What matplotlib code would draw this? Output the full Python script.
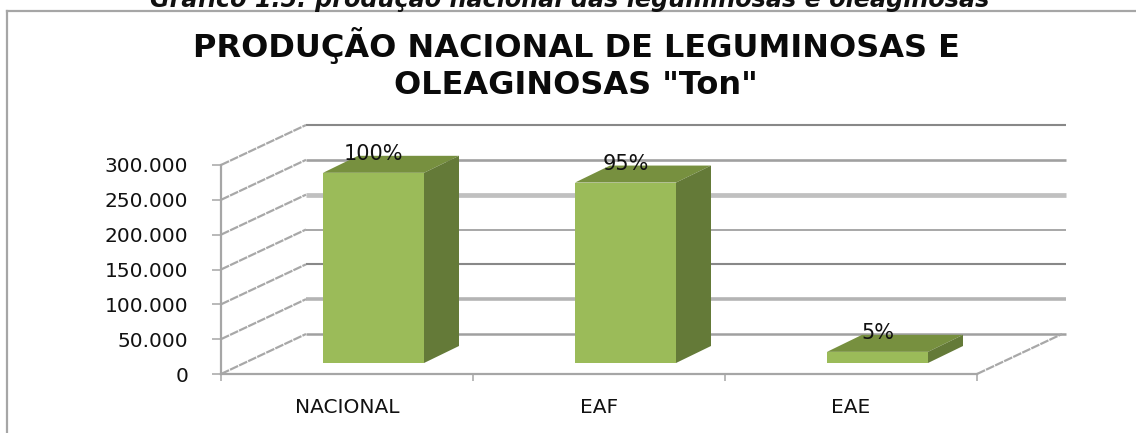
import matplotlib
matplotlib.use('Agg')
import matplotlib.pyplot as plt

categories = ['NACIONAL', 'EAF', 'EAE']
values = [273000, 259000, 16000]
labels = ['100%', '95%', '5%']
y_ticks = [0, 50000, 100000, 150000, 200000, 250000, 300000]
# back wall line looks, bottom to top
grid_colors = ['#a0a0a0', '#b4b4b4', '#888888', '#a0a0a0', '#c0c0c0', '#a0a0a0', '#888888']
grid_widths = [1.8, 2.6, 1.5, 1.3, 3.4, 1.9, 1.5]

W, H = 1136, 433
fig = plt.figure(figsize=(W / 100, H / 100), dpi=100)
fig.patch.set_facecolor('white')

ax = fig.add_axes([221 / W, (H - 374) / H, 756 / W, 209 / H])
ax.set_xlim(0, 3)
ax.set_ylim(0, 300000)
ax.patch.set_alpha(0)

px = 3 / 756
py = 300000 / 209
wall_dx = 85 * px
wall_dy = 40 * py
wall_end = 3 + 89 * px
bar_dx = 35 * px
bar_dy = 17 * py
bar_lift = 11 * py
bar_left = 102 * px
bar_w = 101 * px

# walls
for v, c, lw in zip(y_ticks, grid_colors, grid_widths):
    ax.plot([wall_dx, wall_end], [v + wall_dy, v + wall_dy], color=c, lw=lw,
            clip_on=False, zorder=1, solid_capstyle='butt')
    ax.plot([0, wall_dx], [v, v + wall_dy], color='#a8a8a8', lw=1.6, ls=(0, (4, 0.5)),
            clip_on=False, zorder=1)
ax.plot([3, 3 + wall_dx], [0, wall_dy], color='#a8a8a8', lw=1.6, ls=(0, (4, 0.5)),
        clip_on=False, zorder=1)

# 3d bars
for i, v in enumerate(values):
    x0 = i + bar_left
    x1 = x0 + bar_w
    y0 = bar_lift
    y1 = bar_lift + v
    ax.fill([x0, x1, x1, x0], [y0, y0, y1, y1], color='#9bbb59', lw=0, zorder=3, clip_on=False)
    ax.fill([x0, x1, x1 + bar_dx, x0 + bar_dx], [y1, y1, y1 + bar_dy, y1 + bar_dy],
            color='#77903f', lw=0, zorder=3, clip_on=False)
    ax.fill([x1, x1 + bar_dx, x1 + bar_dx, x1], [y0, y0 + bar_dy, y1 + bar_dy, y1],
            color='#647a38', lw=0, zorder=3, clip_on=False)
    ax.annotate(labels[i], (x0 + bar_w / 2, y1), xytext=(0, 13 * 0.72), textcoords='offset points',
                ha='center', va='baseline', fontsize=15, color='#111111', zorder=5,
                annotation_clip=False)

for s in ['top', 'right']:
    ax.spines[s].set_visible(False)
for s in ['left', 'bottom']:
    ax.spines[s].set_color('#a6a6a6')
    ax.spines[s].set_linewidth(1.6)
    ax.spines[s].set_zorder(2)

ax.set_yticks(y_ticks)
ax.set_yticklabels([f'{v:,}'.replace(',', '.') for v in y_ticks], fontsize=14.5, color='#111111')
ax.tick_params(axis='y', length=6.5, width=1.1, color='#a6a6a6', pad=17)
ax.set_xticks([0, 1, 2, 3])
ax.set_xticklabels([])
ax.tick_params(axis='x', length=5, width=1.1, color='#a6a6a6')
ax.set_xticks([0.5, 1.5, 2.5], minor=True)
ax.set_xticklabels(categories, minor=True, fontsize=14.5, color='#111111')
ax.tick_params(axis='x', which='minor', length=0, pad=17)

# chart frame, open at right and bottom
fig.add_artist(plt.Line2D([7 / W, 7 / W], [0, (H - 11) / H], color='#a6a6a6', lw=1.6))
fig.add_artist(plt.Line2D([7 / W, 1], [(H - 11) / H, (H - 11) / H], color='#a6a6a6', lw=1.6))

fig.text(570 / W, (H - 7) / H, 'Gráfico 1.5: produção nacional das leguminosas e oleaginosas',
         ha='center', va='baseline', fontsize=17.2, fontweight='bold', fontstyle='italic',
         color='#111111')
fig.text(576 / W, (H - 46) / H, 'PRODUÇÃO NACIONAL DE LEGUMINOSAS E', ha='center', va='center',
         fontsize=23, fontweight='bold', color='#0a0a0a')
fig.text(576 / W, (H - 85) / H, 'OLEAGINOSAS "Ton"', ha='center', va='center',
         fontsize=23, fontweight='bold', color='#0a0a0a')

fig.savefig('out.png', dpi=100)
